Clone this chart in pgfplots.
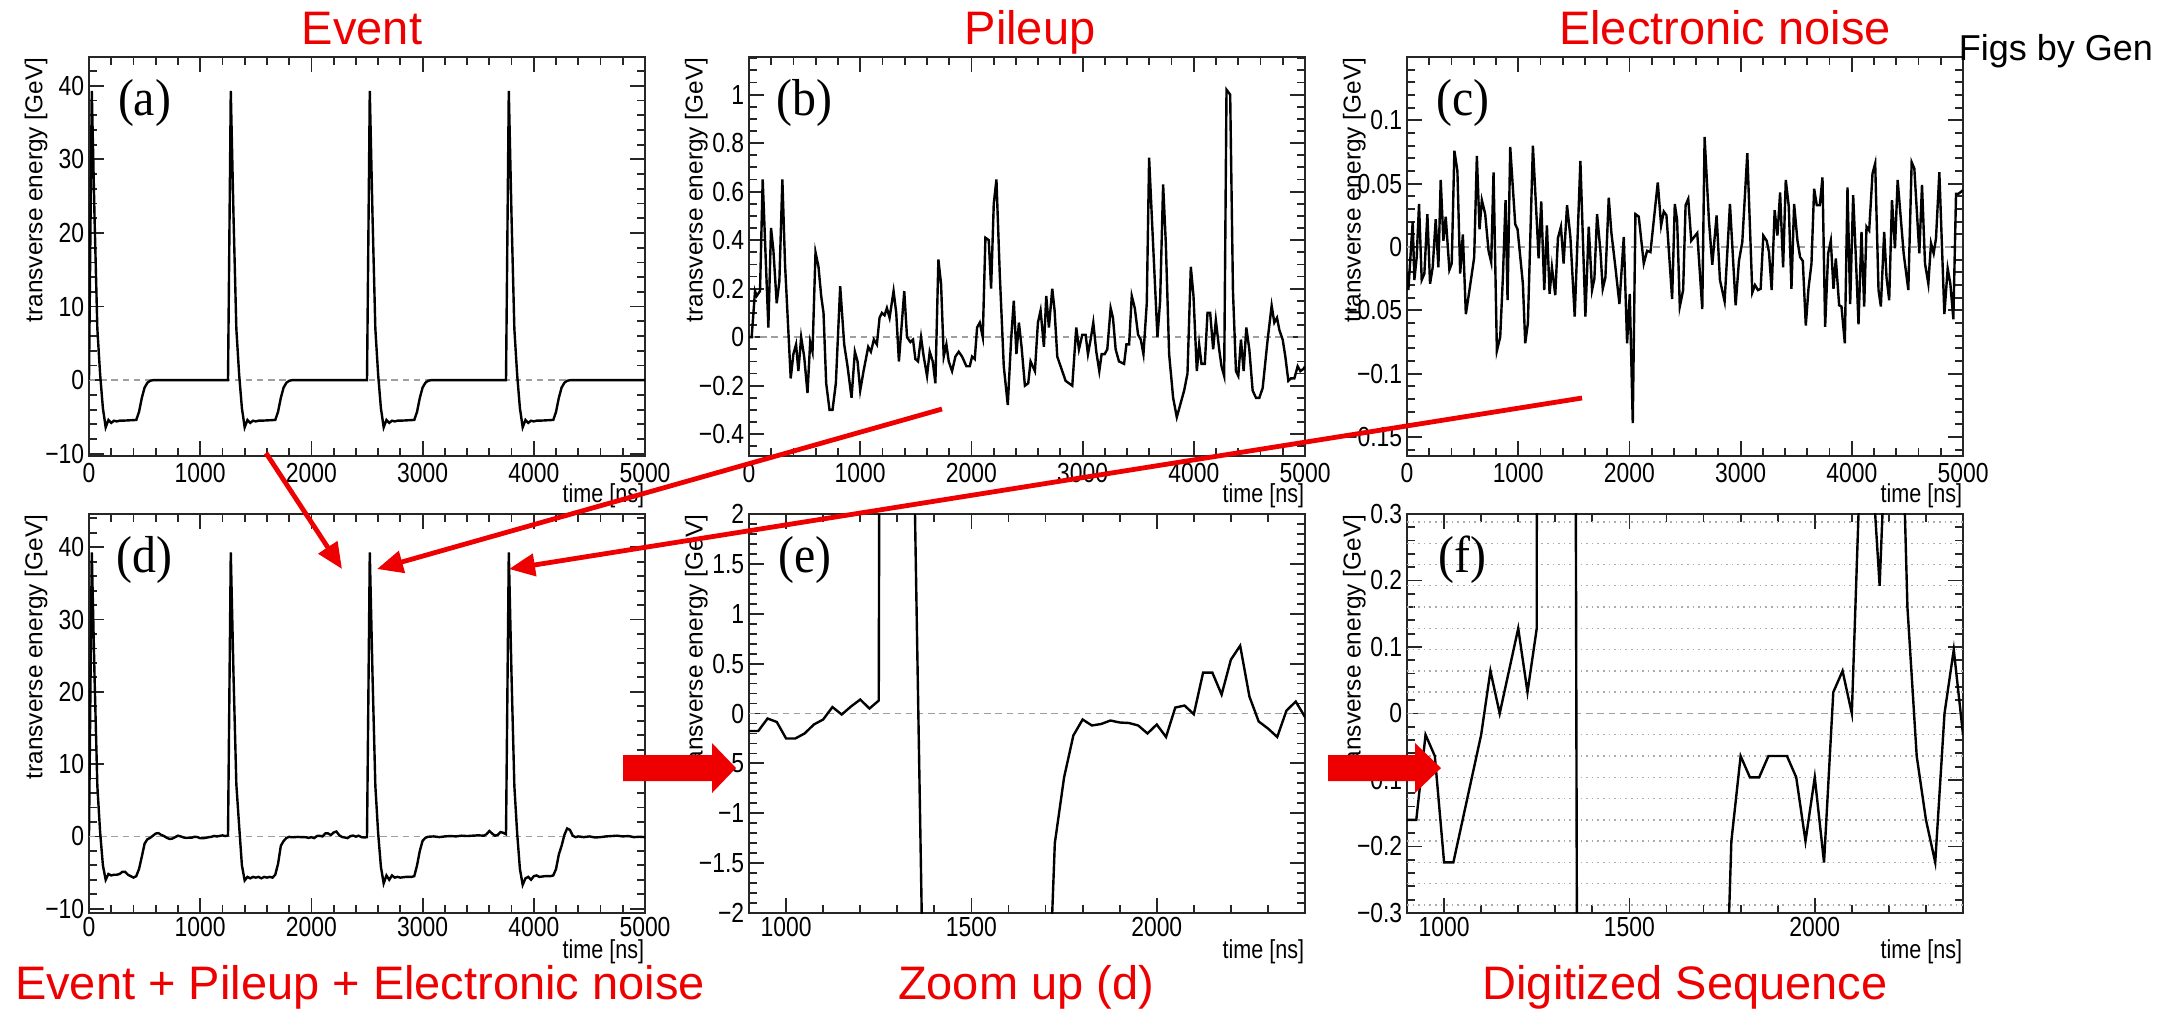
\documentclass[border=0pt]{standalone}
\usepackage{fontspec}
\setmainfont{Liberation Sans}
\newfontfamily\condsf[FakeStretch=0.83]{Liberation Sans}
\newfontfamily\letterfont[FakeStretch=0.92]{Liberation Serif}
\usepackage{pgfplots}
\usepackage{pgfplotstable}
\pgfplotsset{compat=1.18}
\usetikzlibrary{arrows.meta}
\definecolor{pptred}{RGB}{238,0,0}

% ROOT-like frame: ticks inside on all four sides
\pgfplotsset{
  rootstyle/.style={
    scale only axis, width=139pt, height=99.75pt, anchor=south west,
    axis line style={line width=0.5pt, black!85},
    tick align=inside, tick pos=both,
    major tick length=3.8pt, minor tick length=2pt,
    every tick/.style={black!85, line width=0.45pt},
    tick label style={font=\condsf\fontsize{6.9}{7.5}\selectfont},
    xticklabel style={inner ysep=1.6pt},
    yticklabel style={inner xsep=1pt},
    xlabel={time [ns]},
    x label style={at={(axis description cs:1,-0.1)}, anchor=east, inner sep=0pt,
      font=\condsf\fontsize{6.5}{7}\selectfont},
    ylabel={transverse energy [GeV]},
    y label style={at={(axis description cs:-0.095,1)}, anchor=east, inner sep=0pt,
      font=\fontsize{6.1}{7}\selectfont},
  },
  lowrow/.style={x label style={at={(axis description cs:1,-0.098)}},
    xticklabel style={inner ysep=0.8pt}},
  trace/.style={black, line width=0.6pt, no markers},
}
\newcommand\zeroline[2]{\draw[gray!75, dash pattern=on 1.6pt off 1.2pt, line width=0.45pt] (axis cs:#1,0) -- (axis cs:#2,0);}
\newcommand\tag[1]{\node[font=\letterfont\fontsize{13}{14}\selectfont] at (rel axis cs:0.1,0.885) {(#1)};}

% (d) = event + pileup + noise, also shown zoomed in (e)
\pgfplotstableread[row sep=\\]{
t e\\
0 0.1\\ 25 39.3\\ 50 22\\ 75 7\\ 100 0.6\\ 125 -4.0\\ 150 -6.0\\ 175 -5.2\\ 200 -5.4\\ 225 -5.3\\
250 -5.3\\ 275 -5.2\\ 300 -4.9\\ 325 -4.9\\ 350 -5.3\\ 375 -5.5\\ 400 -5.7\\ 425 -5.5\\ 450 -4.5\\
475 -2.8\\ 500 -1.0\\ 525 -0.4\\ 550 -0.2\\ 575 0.1\\ 600 0.4\\ 625 0.45\\ 650 0.2\\ 675 0.05\\
700 -0.2\\ 725 -0.35\\ 750 -0.3\\ 775 -0.1\\ 800 0.1\\ 825 0.0\\ 850 -0.15\\ 875 -0.2\\
900 -0.175\\ 925 -0.175\\ 950 -0.05\\ 975 -0.085\\ 1000 -0.25\\ 1025 -0.25\\ 1050 -0.2\\ 1075 -0.11\\
1100 -0.06\\ 1125 0.065\\ 1150 -0.01\\ 1175 0.07\\ 1200 0.14\\ 1225 0.05\\ 1250 0.13\\
1275 39.3\\ 1300 22\\ 1325 7.2\\ 1350 1.5\\ 1375 -4.0\\ 1400 -6.1\\ 1425 -5.6\\ 1450 -5.8\\
1475 -5.6\\ 1500 -5.7\\ 1525 -5.6\\ 1550 -5.8\\ 1575 -5.6\\ 1600 -5.7\\ 1625 -5.6\\ 1650 -5.7\\
1675 -5.3\\ 1700 -3.8\\ 1725 -1.3\\ 1750 -0.64\\ 1775 -0.22\\ 1800 -0.06\\ 1825 -0.12\\
1850 -0.105\\ 1875 -0.07\\ 1900 -0.09\\ 1925 -0.095\\ 1950 -0.12\\ 1975 -0.2\\ 2000 -0.11\\
2025 -0.235\\ 2050 0.06\\ 2075 0.08\\ 2100 -0.007\\ 2125 0.41\\ 2150 0.41\\ 2175 0.19\\
2200 0.54\\ 2225 0.68\\ 2250 0.17\\ 2275 -0.08\\ 2300 -0.15\\ 2325 -0.235\\ 2350 0.03\\
2375 0.12\\ 2400 -0.035\\ 2425 0.1\\ 2450 -0.1\\ 2475 -0.15\\ 2500 -0.1\\
2525 39.3\\ 2550 22\\ 2575 7\\ 2600 0.5\\ 2625 -4.2\\ 2650 -6.5\\ 2675 -5.4\\ 2700 -6.0\\
2725 -5.4\\ 2750 -5.7\\ 2775 -5.6\\ 2800 -5.7\\ 2850 -5.6\\ 2900 -5.6\\ 2925 -5.5\\ 2950 -4.0\\
2975 -2.0\\ 3000 -0.6\\ 3025 -0.2\\ 3050 -0.05\\ 3100 0.0\\ 3150 -0.1\\ 3200 0.0\\ 3250 0.05\\
3300 0.0\\ 3350 0.1\\ 3400 0.05\\ 3450 0.1\\ 3500 0.15\\ 3550 0.1\\ 3575 0.3\\ 3600 0.75\\
3625 0.4\\ 3650 0.1\\ 3675 0.2\\ 3700 0.6\\ 3725 0.5\\ 3750 0.3\\
3775 39.3\\ 3800 22\\ 3825 7\\ 3850 0.5\\ 3875 -4.5\\ 3900 -6.7\\ 3925 -5.8\\ 3950 -5.6\\
3975 -6.0\\ 4000 -5.5\\ 4025 -5.4\\ 4050 -5.6\\ 4100 -5.5\\ 4150 -5.5\\ 4175 -5.4\\ 4200 -4.5\\
4225 -2.5\\ 4250 -1.3\\ 4275 0.2\\ 4300 1.1\\ 4325 0.9\\ 4350 0.1\\ 4375 -0.1\\ 4400 0.0\\
4450 -0.1\\ 4500 0.0\\ 4550 -0.15\\ 4600 -0.1\\ 4650 0.0\\ 4700 0.05\\ 4750 0.1\\ 4800 0.0\\
4850 0.05\\ 4900 -0.1\\ 4950 -0.05\\ 5000 -0.1\\
}\dsum

\begin{document}
\begin{tikzpicture}
\useasboundingbox (0pt,0pt) rectangle (544.75pt,-252.5pt);

% (a) event
\begin{axis}[rootstyle, at={(22.25pt,-114pt)},
  xmin=0, xmax=5000, ymin=-10.3, ymax=43.9,
  xtick={0,1000,...,5000}, xticklabels={0,1000,2000,3000,4000,5000},
  minor xtick={0,200,...,5000},
  ytick={-10,0,10,20,30,40}, yticklabels={−10,0,10,20,30,40},
  minor ytick={-10,-8,...,42}]
\zeroline{0}{5000}
\addplot[trace] coordinates {
 (0,0) (25,39.3) (50,22) (75,7) (100,0.8) (125,-3.8) (150,-6.4) (175,-5.4) (200,-5.8) (225,-5.5)
 (250,-5.6) (275,-5.5) (300,-5.5) (425,-5.4) (450,-4.3) (475,-2.4) (500,-1.0) (525,-0.35) (550,-0.08) (575,0)
 (1250,0) (1275,39.3) (1300,22) (1325,7) (1350,0.8) (1375,-3.8) (1400,-6.4) (1425,-5.4) (1450,-5.8) (1475,-5.5)
 (1500,-5.6) (1525,-5.5) (1550,-5.5) (1675,-5.4) (1700,-4.3) (1725,-2.4) (1750,-1.0) (1775,-0.35) (1800,-0.08) (1825,0)
 (2500,0) (2525,39.3) (2550,22) (2575,7) (2600,0.8) (2625,-3.8) (2650,-6.4) (2675,-5.4) (2700,-5.8) (2725,-5.5)
 (2750,-5.6) (2775,-5.5) (2800,-5.5) (2925,-5.4) (2950,-4.3) (2975,-2.4) (3000,-1.0) (3025,-0.35) (3050,-0.08) (3075,0)
 (3750,0) (3775,39.3) (3800,22) (3825,7) (3850,0.8) (3875,-3.8) (3900,-6.4) (3925,-5.4) (3950,-5.8) (3975,-5.5)
 (4000,-5.6) (4025,-5.5) (4050,-5.5) (4175,-5.4) (4200,-4.3) (4225,-2.4) (4250,-1.0) (4275,-0.35) (4300,-0.08) (4325,0)
 (5000,0)};
\tag{a}
\end{axis}

% (b) pileup
\begin{axis}[rootstyle, at={(187.25pt,-114pt)},
  xmin=0, xmax=5000, ymin=-0.49, ymax=1.155,
  xtick={0,1000,...,5000}, xticklabels={0,1000,2000,3000,4000,5000},
  minor xtick={0,200,...,5000},
  ytick={-0.4,-0.2,0,0.2,0.4,0.6,0.8,1}, yticklabels={−0.4,−0.2,0,0.2,0.4,0.6,0.8,1},
  minor ytick={-0.45,-0.4,...,1.15}]
\zeroline{0}{5000}
\addplot[trace] coordinates {
 (0,0) (24,0.0) (54,0.19) (69,0.17) (99,0.19) (123,0.65) (174,0.04) (198,0.45) (219,0.36) (249,0.14)
 (273,0.23) (300,0.65) (324,0.30) (375,-0.17) (399,-0.07) (423,-0.03) (444,-0.14) (469,0.0) (496,-0.08)
 (526,-0.23) (550,-0.02) (571,-0.06) (598,0.35) (625,0.29) (649,0.17) (670,0.10) (694,-0.19) (724,-0.30)
 (751,-0.30) (781,-0.19) (820,0.21) (856,-0.03) (886,-0.12) (922,-0.25) (952,-0.06) (976,-0.10)
 (1000,-0.22) (1030,-0.14) (1072,-0.04) (1096,-0.06) (1123,-0.01) (1150,-0.03) (1174,0.08) (1195,0.10)
 (1219,0.09) (1240,0.12) (1264,0.08) (1300,0.19) (1324,0.10) (1348,-0.10) (1396,0.19) (1421,0.0)
 (1451,-0.02) (1475,-0.01) (1496,-0.09) (1520,-0.10) (1547,0.0) (1571,-0.08) (1601,-0.16) (1625,-0.06)
 (1652,-0.10) (1676,-0.19) (1703,0.32) (1727,0.22) (1751,-0.08) (1775,-0.03) (1796,-0.10) (1826,-0.14)
 (1856,-0.08) (1886,-0.06) (1916,-0.08) (1955,-0.12) (1985,-0.12) (2006,-0.08) (2030,-0.09) (2051,0.04)
 (2075,0.06) (2102,0.0) (2126,0.41) (2156,0.40) (2177,0.20) (2201,0.55) (2225,0.65) (2255,0.26)
 (2291,-0.12) (2327,-0.28) (2357,-0.01) (2381,0.15) (2405,-0.07) (2427,0.06) (2451,-0.04) (2481,-0.20)
 (2511,-0.19) (2532,-0.10) (2571,-0.14) (2598,0.06) (2622,0.11) (2652,-0.04) (2673,0.17) (2697,0.04)
 (2727,0.20) (2748,0.11) (2772,-0.08) (2802,-0.12) (2847,-0.18) (2877,-0.19) (2907,-0.20) (2943,0.04)
 (2967,-0.05) (2997,0.01) (3027,0.01) (3048,-0.07) (3072,-0.01) (3096,0.06) (3123,-0.06) (3150,-0.14)
 (3171,-0.07) (3198,-0.07) (3222,-0.05) (3252,0.12) (3273,0.08) (3297,-0.05) (3327,-0.10) (3373,-0.11)
 (3394,-0.03) (3418,-0.03) (3442,0.17) (3469,0.12) (3499,0.01) (3523,-0.01) (3547,-0.07) (3577,0.14)
 (3598,0.74) (3628,0.44) (3673,0.0) (3697,0.15) (3724,0.63) (3748,0.39) (3778,-0.07) (3814,-0.25)
 (3847,-0.33) (3877,-0.28) (3913,-0.22) (3943,-0.15) (3973,0.29) (3997,0.17) (4027,-0.14) (4048,-0.03)
 (4069,-0.11) (4099,-0.11) (4123,0.10) (4147,0.10) (4174,-0.05) (4198,0.07) (4228,-0.05) (4249,-0.12)
 (4273,-0.16) (4294,1.02) (4327,1.00) (4352,0.19) (4379,-0.14) (4400,-0.16) (4424,-0.01) (4448,-0.14)
 (4472,0.04) (4499,-0.05) (4529,-0.22) (4559,-0.25) (4589,-0.25) (4619,-0.21) (4664,-0.01) (4700,0.13)
 (4724,0.06) (4748,0.08) (4769,0.03) (4799,-0.01) (4823,-0.08) (4850,-0.18) (4874,-0.17) (4904,-0.17)
 (4934,-0.12) (4958,-0.14) (4988,-0.13) (5000,-0.12)};
\tag{b}
\end{axis}

% (c) electronic noise
\begin{axis}[rootstyle, at={(351.75pt,-114pt)},
  xmin=0, xmax=5000, ymin=-0.165, ymax=0.15,
  xtick={0,1000,...,5000}, xticklabels={0,1000,2000,3000,4000,5000},
  minor xtick={0,200,...,5000},
  ytick={-0.15,-0.1,-0.05,0,0.05,0.1}, yticklabels={−0.15,−0.1,−0.05,0,0.05,0.1},
  minor ytick={-0.16,-0.15,...,0.15}]
\zeroline{0}{5000}
\addplot[trace] coordinates {
 (0,-0.02) (12,-0.034) (27,-0.013) (51,0.020) (66,-0.026) (87,-0.008) (108,0.034) (132,-0.026) (156,-0.021)
 (183,0.026) (207,-0.029) (231,-0.016) (258,0.022) (282,-0.016) (303,0.053) (327,0.005) (348,0.024)
 (381,-0.018) (402,-0.013) (426,0.076) (453,0.060) (478,-0.021) (502,0.010) (529,-0.053) (553,-0.039)
 (583,-0.021) (604,-0.008) (628,0.072) (652,0.014) (673,0.037) (703,0.026) (733,-0.003) (757,-0.012)
 (778,0.059) (808,-0.082) (838,-0.071) (862,-0.024) (886,0.037) (904,-0.042) (928,0.079) (973,0.018)
 (994,0.014) (1042,-0.029) (1063,-0.076) (1087,-0.060) (1132,0.080) (1174,0.008) (1183,-0.009)
 (1207,0.036) (1234,-0.034) (1258,0.017) (1282,-0.037) (1303,-0.016) (1333,-0.038) (1357,0.007)
 (1384,0.016) (1408,-0.013) (1439,0.033) (1469,0.008) (1508,-0.055) (1559,0.068) (1604,-0.055)
 (1634,0.016) (1664,-0.034) (1685,-0.025) (1709,0.026) (1739,-0.003) (1760,-0.033) (1784,-0.024)
 (1814,0.039) (1838,0.011) (1874,-0.016) (1910,-0.045) (1949,0.008) (1979,-0.076) (2003,-0.037)
 (2030,-0.139) (2054,0.026) (2084,0.024) (2129,-0.013) (2159,-0.003) (2189,-0.004) (2255,0.051)
 (2285,0.017) (2309,0.028) (2333,0.025) (2384,-0.041) (2408,0.034) (2429,0.021) (2453,-0.047)
 (2483,-0.034) (2505,0.033) (2529,0.038) (2556,0.005) (2610,0.011) (2655,-0.049) (2676,0.087)
 (2715,0.021) (2745,-0.014) (2784,0.025) (2814,-0.026) (2856,-0.043) (2904,0.034) (2955,-0.046)
 (2985,-0.011) (3015,0.004) (3060,0.074) (3105,-0.036) (3129,-0.030) (3156,-0.034) (3180,-0.033)
 (3204,0.009) (3234,0.005) (3255,-0.004) (3279,-0.034) (3306,0.029) (3331,0.009) (3355,0.043)
 (3382,-0.016) (3406,0.053) (3433,0.032) (3457,-0.033) (3481,0.034) (3511,0.005) (3535,-0.008)
 (3559,-0.011) (3586,-0.062) (3610,-0.033) (3637,-0.013) (3661,0.046) (3685,0.033) (3712,0.033)
 (3736,0.055) (3760,-0.063) (3787,-0.005) (3811,0.005) (3835,-0.033) (3856,-0.009) (3886,-0.046)
 (3907,-0.047) (3937,-0.076) (3961,0.047) (3985,-0.045) (4012,0.041) (4036,-0.008) (4060,-0.061)
 (4087,0.012) (4111,-0.047) (4132,0.016) (4156,0.013) (4186,0.058) (4210,0.066) (4240,-0.034)
 (4261,-0.047) (4291,0.012) (4312,-0.024) (4336,-0.042) (4361,0.037) (4388,-0.001) (4412,0.053)
 (4466,-0.005) (4508,-0.034) (4538,0.067) (4562,0.062) (4607,-0.005) (4631,0.049) (4658,-0.013)
 (4688,-0.029) (4712,0.003) (4736,-0.005) (4757,0.007) (4787,0.059) (4832,-0.053) (4862,-0.017)
 (4886,-0.029) (4913,-0.057) (4937,0.042) (4958,0.042) (4988,0.044) (5000,0.045)};
\tag{c}
\end{axis}

% (d) event + pileup + noise
\begin{axis}[rootstyle, lowrow, at={(22.25pt,-228.25pt)},
  xmin=0, xmax=5000, ymin=-10.6, ymax=44.6,
  xtick={0,1000,...,5000}, xticklabels={0,1000,2000,3000,4000,5000},
  minor xtick={0,200,...,5000},
  ytick={-10,0,10,20,30,40}, yticklabels={−10,0,10,20,30,40},
  minor ytick={-10,-8,...,44}]
\zeroline{0}{5000}
\addplot[trace] table[x=t, y=e] {\dsum};
\tag{d}
\end{axis}

% (e) zoom of (d)
\begin{axis}[rootstyle, lowrow, at={(187.25pt,-228.25pt)},
  xmin=900, xmax=2400, ymin=-2, ymax=2,
  xtick={1000,1500,2000}, xticklabels={1000,1500,2000},
  minor xtick={900,1000,...,2400},
  ytick={-2,-1.5,-1,-0.5,0,0.5,1,1.5,2}, yticklabels={−2,−1.5,−1,−0.5,0,0.5,1,1.5,2},
  minor ytick={-2,-1.9,...,2}]
\zeroline{900}{2400}
\addplot[trace] table[x=t, y=e] {\dsum};
\tag{e}
\end{axis}

% (f) digitized sequence
\begin{axis}[rootstyle, lowrow, at={(351.75pt,-228.25pt)},
  xmin=900, xmax=2400, ymin=-0.3, ymax=0.3,
  xtick={1000,1500,2000}, xticklabels={1000,1500,2000},
  minor xtick={900,1000,...,2400},
  ytick={-0.3,-0.2,-0.1,0,0.1,0.2,0.3}, yticklabels={−0.3,−0.2,−0.1,0,0.1,0.2,0.3},
  minor ytick={-0.3,-0.28,...,0.3},
  extra y ticks={-0.288,-0.256,-0.224,-0.192,-0.16,-0.128,-0.096,-0.064,-0.032,0.032,0.064,0.096,0.128,0.16,0.192,0.224,0.256,0.288},
  extra y tick style={grid=major, major tick length=0pt, yticklabel={},
    major grid style={densely dotted, gray!65, line width=0.35pt}}]
\zeroline{900}{2400}
\addplot[trace] coordinates {
 (900,-0.16) (925,-0.16) (950,-0.032) (975,-0.064) (1000,-0.224) (1025,-0.224) (1050,-0.16) (1075,-0.096)
 (1100,-0.032) (1125,0.064) (1150,0.0) (1175,0.064) (1200,0.128) (1225,0.032) (1250,0.128)
 (1275,39.3) (1300,22) (1325,7.2) (1350,1.5) (1375,-4.0) (1400,-6.1) (1450,-5.8) (1500,-5.7)
 (1550,-5.8) (1600,-5.7) (1650,-5.7) (1675,-5.3) (1700,-3.8) (1725,-1.3) (1750,-0.64)
 (1775,-0.192) (1800,-0.064) (1825,-0.096) (1850,-0.096) (1875,-0.064) (1900,-0.064) (1925,-0.064)
 (1950,-0.096) (1975,-0.192) (2000,-0.096) (2025,-0.224) (2050,0.032) (2075,0.064) (2100,0.0)
 (2125,0.416) (2150,0.416) (2175,0.192) (2200,0.544) (2225,0.672) (2250,0.16) (2275,-0.064)
 (2300,-0.16) (2325,-0.224) (2350,0.0) (2375,0.096) (2400,-0.032)};
\tag{f}
\end{axis}

% titles
\begin{scope}[every node/.style={text=pptred, font=\fontsize{11.75}{13}\selectfont, inner sep=0pt}]
\node[anchor=base] at (90.5pt,-11pt) {Event};
\node[anchor=base] at (257.5pt,-11pt) {Pileup};
\node[anchor=base] at (431.25pt,-11pt) {Electronic noise};
\node[anchor=base] at (90pt,-249.8pt) {Event + Pileup + Electronic noise};
\node[anchor=base] at (256.5pt,-249.8pt) {Zoom up (d)};
\node[anchor=base] at (421.25pt,-249.8pt) {Digitized Sequence};
\end{scope}
\node[anchor=base west, inner sep=0pt, font=\fontsize{9}{10}\selectfont] at (489.5pt,-15pt) {Figs by Gen};

% thin arrows from the components to (d)
\begin{scope}[pptred, line width=1.2pt, -{Triangle[length=6.5pt,width=5.5pt]}]
\draw (66.5pt,-113.25pt) -- (85.5pt,-142.25pt);
\draw (235.5pt,-102.25pt) -- (94.25pt,-142.25pt);
\draw (395.5pt,-99.5pt) -- (127.25pt,-142.25pt);
\end{scope}

% block arrows
\fill[pptred] (155.75pt,-188.75pt) -- (178pt,-188.75pt) -- (178pt,-185.75pt) -- (184pt,-192pt)
  -- (178pt,-198.25pt) -- (178pt,-195.25pt) -- (155.75pt,-195.25pt) -- cycle;
\fill[pptred] (332pt,-188.75pt) -- (353.75pt,-188.75pt) -- (353.75pt,-185.75pt) -- (360.25pt,-192pt)
  -- (353.75pt,-198.25pt) -- (353.75pt,-195.25pt) -- (332pt,-195.25pt) -- cycle;
\end{tikzpicture}
\end{document}
